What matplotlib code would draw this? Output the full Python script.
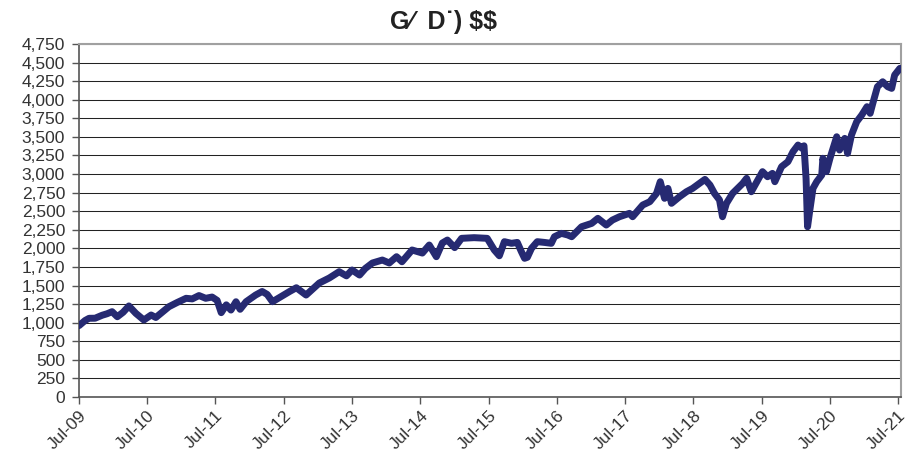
import matplotlib
matplotlib.use("Agg")
import matplotlib.pyplot as plt
import pandas as pd
from matplotlib.ticker import FuncFormatter

plt.rcParams['font.family'] = ['Liberation Sans', 'DejaVu Sans']

title = "G\u2044  D\u02d9) \\$\\$"

dates = [
    "2009-07-01", "2009-08-03", "2009-08-24", "2009-09-25", "2009-11-02", "2009-11-28",
    "2009-12-25", "2010-01-22", "2010-02-22", "2010-03-25", "2010-05-01", "2010-06-13",
    "2010-07-22", "2010-08-16", "2010-09-24", "2010-10-25", "2010-12-07", "2011-01-25",
    "2011-02-27", "2011-04-04", "2011-05-10", "2011-06-13", "2011-07-10", "2011-08-01",
    "2011-08-28", "2011-09-22", "2011-10-19", "2011-11-10", "2011-12-12", "2012-02-01",
    "2012-03-07", "2012-04-03", "2012-05-01", "2012-06-22", "2012-08-01", "2012-09-06",
    "2012-10-28", "2012-12-01", "2013-01-07", "2013-03-01", "2013-04-23", "2013-06-01",
    "2013-07-01", "2013-08-10", "2013-09-10", "2013-10-18", "2013-12-10", "2014-01-16",
    "2014-02-24", "2014-03-25", "2014-05-18", "2014-07-12", "2014-08-18", "2014-09-25",
    "2014-10-27", "2014-11-23", "2015-01-01", "2015-02-07", "2015-04-15", "2015-06-24",
    "2015-08-01", "2015-08-28", "2015-09-24", "2015-11-01", "2015-12-02", "2015-12-24",
    "2016-01-10", "2016-01-25", "2016-02-16", "2016-03-18", "2016-04-25", "2016-06-01",
    "2016-06-18", "2016-07-25", "2016-08-28", "2016-09-18", "2016-11-10", "2017-01-03",
    "2017-02-05", "2017-03-22", "2017-04-24", "2017-06-01", "2017-07-24", "2017-08-10",
    "2017-10-03", "2017-11-10", "2017-12-16", "2018-01-05", "2018-01-28", "2018-02-15",
    "2018-03-06", "2018-04-18", "2018-05-25", "2018-06-27", "2018-08-03", "2018-09-01",
    "2018-09-28", "2018-10-22", "2018-11-18", "2018-12-04", "2018-12-25", "2019-01-27",
    "2019-03-22", "2019-04-12", "2019-05-07", "2019-06-21", "2019-07-06", "2019-08-02",
    "2019-08-28", "2019-09-10", "2019-10-16", "2019-11-19", "2019-12-16", "2020-01-12",
    "2020-02-03", "2020-02-13", "2020-02-24", "2020-03-03", "2020-03-14", "2020-04-01",
    "2020-04-21", "2020-05-18", "2020-05-24", "2020-06-12", "2020-07-01", "2020-08-06",
    "2020-08-21", "2020-09-18", "2020-10-03", "2020-10-24", "2020-11-21", "2020-12-18",
    "2021-01-15", "2021-02-01", "2021-02-15", "2021-03-12", "2021-04-09", "2021-05-06",
    "2021-05-27", "2021-06-12", "2021-07-10",
]

values = [
    960, 1030, 1059, 1060, 1100, 1120,
    1148, 1080, 1140, 1225, 1126, 1036,
    1103, 1070, 1150, 1215, 1270, 1328,
    1320, 1365, 1328, 1345, 1300, 1135,
    1240, 1170, 1282, 1180, 1282, 1372,
    1420, 1380, 1282, 1360, 1420, 1470,
    1372, 1450, 1534, 1601, 1686, 1630,
    1709, 1641, 1730, 1803, 1843, 1803,
    1888, 1820, 1978, 1937, 2045, 1888,
    2072, 2112, 2010, 2135, 2144, 2135,
    1978, 1900, 2090, 2068, 2080, 1955,
    1866, 1880, 2000, 2090, 2080, 2068,
    2157, 2202, 2180, 2157, 2291, 2336,
    2404, 2314, 2381, 2426, 2471, 2426,
    2583, 2628, 2740, 2897, 2673, 2807,
    2606, 2695, 2762, 2807, 2874, 2928,
    2852, 2740, 2651, 2426, 2605, 2740,
    2874, 2942, 2762, 2964, 3032, 2964,
    3009, 2897, 3099, 3166, 3300, 3390,
    3346, 3380, 2942, 2291, 2493, 2807,
    2897, 2987, 3212, 3032, 3212, 3502,
    3323, 3480, 3278, 3525, 3704, 3794,
    3906, 3817, 3950, 4175, 4242, 4175,
    4153, 4332, 4422,
]

y_ticks = list(range(0, 4751, 250))
x_tick_dates = [f"{y}-07-01" for y in range(2009, 2022)]
x_tick_labels = [f"Jul-{y % 100:02d}" for y in range(2009, 2022)]

fig = plt.figure(figsize=(9.09, 4.72), dpi=100)
ax = fig.add_axes([0.0869, 0.1589, 0.9043, 0.7479])

d = pd.to_datetime(dates)
ax.plot(d, values, color='#262a72', lw=5.0, solid_joinstyle='round',
        solid_capstyle='round', zorder=3)

ax.set_ylim(0, 4750)
ax.set_yticks(y_ticks)
ax.yaxis.set_major_formatter(FuncFormatter(lambda v, p: f"{int(v):,}"))
ax.set_xlim(pd.Timestamp("2009-07-01"), pd.Timestamp("2021-07-16"))
ax.set_xticks(pd.to_datetime(x_tick_dates))
ax.set_xticklabels(x_tick_labels, rotation=45, ha='right', va='top',
                   rotation_mode='anchor')

ax.grid(axis='y', color='#222222', lw=0.75, zorder=1)
ax.set_axisbelow(True)

for s in ['left', 'bottom']:
    ax.spines[s].set_color('#555555')
    ax.spines[s].set_linewidth(1.2)
for s in ['top', 'right']:
    ax.spines[s].set_color('#a0a0a0')
    ax.spines[s].set_linewidth(1.5)

ax.tick_params(axis='both', direction='out', length=5, width=1, color='#555555',
               labelsize=12.5, labelcolor='#333333')
ax.tick_params(axis='y', pad=5)
ax.tick_params(axis='x', pad=3)

fig.text(0.488, 0.953, title, ha='center', va='center', fontsize=18,
         fontweight='bold', color='#222222')

fig.savefig("out.png", dpi=100)
